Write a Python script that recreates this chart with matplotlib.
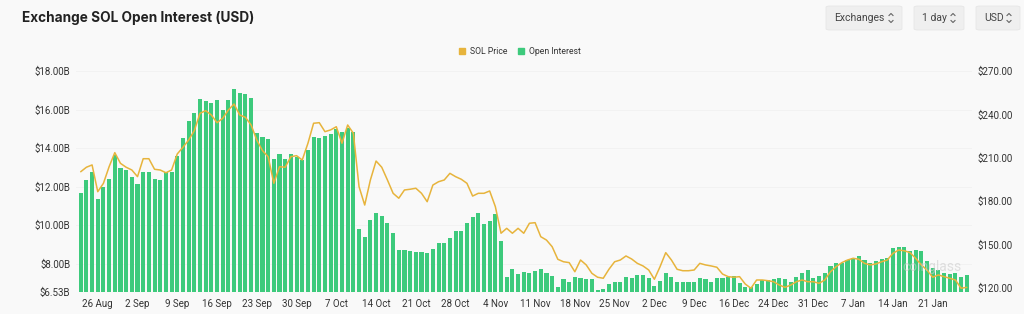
import matplotlib
matplotlib.use("Agg")
import matplotlib.pyplot as plt
from matplotlib.patches import FancyBboxPatch
from matplotlib.lines import Line2D
import pandas as pd

# ---------------- data ----------------
start_date = "2024-08-23"
end_date = "2025-01-27"
missing_dates = ["2024-12-23"]

open_interest_b = [
    11.69, 12.35, 12.76, 11.38, 11.97, 12.38, 13.65, 12.96, 12.87, 12.49,
    12.14, 12.75, 12.75, 12.38, 12.35, 12.76, 12.78, 13.61, 14.51, 15.40,
    15.81, 16.54, 16.47, 16.36, 16.50, 15.98, 16.50, 17.08, 16.88, 16.82,
    16.61, 14.77, 14.60, 14.49, 13.44, 13.68, 13.42, 13.70, 13.53, 13.39,
    13.91, 14.60, 14.53, 14.63, 14.74, 14.98, 14.86, 15.07, 14.83, 9.80,
    9.37, 10.27, 10.62, 10.48, 10.10, 9.61, 8.73, 8.71, 8.68, 8.62,
    8.62, 8.54, 8.75, 9.09, 9.09, 9.32, 9.70, 9.70, 10.13, 10.44,
    10.62, 10.06, 10.20, 10.58, 9.16, 7.33, 7.71, 7.46, 7.57, 7.50,
    7.64, 7.71, 7.50, 7.38, 6.77, 7.19, 7.07, 7.29, 7.27, 7.22,
    7.22, 6.63, 6.67, 6.93, 7.05, 7.07, 7.33, 7.27, 7.43, 7.43,
    7.27, 6.84, 7.12, 7.50, 7.29, 7.07, 7.07, 7.07, 7.07, 7.26,
    7.22, 7.07, 7.27, 7.27, 7.33, 7.35, 6.98, 6.77, 6.81, 6.95,
    7.15, 7.15, 7.20, 7.24, 7.22, 7.05, 7.33, 7.53, 7.67, 7.24,
    7.36, 7.53, 7.88, 8.05, 8.05, 8.19, 8.28, 8.40, 8.19, 8.05,
    8.16, 8.23, 8.28, 8.80, 8.85, 8.85, 8.68, 8.71, 8.68, 8.12,
    7.76, 7.67, 7.53, 7.46, 7.50, 7.33, 7.43,
]

sol_price = [
    200.4, 203.5, 205.1, 186.6, 192.4, 203.9, 213.6, 206.2, 203.5, 201.6,
    197.0, 209.4, 209.4, 202.1, 201.6, 199.7, 201.6, 212.7, 217.3, 222.3,
    228.8, 240.8, 242.6, 239.6, 234.3, 237.3, 243.1, 247.2, 239.6, 238.0,
    232.7, 222.3, 215.0, 210.8, 192.4, 203.9, 203.5, 210.8, 211.5, 208.5,
    220.0, 233.9, 234.3, 228.1, 229.3, 231.5, 220.1, 232.7, 227.0, 190.1,
    177.4, 194.7, 207.8, 203.5, 194.7, 185.5, 182.1, 187.8, 188.3, 189.0,
    185.5, 179.7, 191.2, 193.5, 194.7, 199.3, 197.0, 195.2, 192.4, 183.6,
    185.5, 185.5, 187.1, 176.3, 157.9, 161.3, 157.9, 161.3, 157.9, 164.8,
    165.2, 155.5, 153.2, 148.6, 139.9, 138.2, 137.6, 131.3, 139.4, 136.0,
    130.2, 127.5, 126.8, 133.0, 138.2, 139.4, 142.2, 140.1, 137.1, 135.3,
    132.5, 126.1, 134.8, 144.5, 139.4, 133.0, 132.0, 132.0, 132.5, 137.1,
    136.0, 135.3, 134.4, 129.7, 127.9, 127.5, 127.9, 122.8, 119.9, 125.6,
    125.6, 125.1, 124.4, 122.1, 120.5, 122.1, 124.4, 125.6, 124.4, 124.4,
    123.3, 125.6, 131.3, 134.8, 137.6, 139.4, 140.6, 139.9, 137.1, 136.0,
    136.7, 138.2, 139.4, 144.0, 146.3, 145.8, 144.5, 140.6, 136.0, 132.5,
    127.5, 129.1, 127.9, 126.8, 125.6, 119.9, 120.5,
]

tick_dates = ["2024-08-26", "2024-09-02", "2024-09-09", "2024-09-16", "2024-09-23",
              "2024-09-30", "2024-10-07", "2024-10-14", "2024-10-21", "2024-10-28",
              "2024-11-04", "2024-11-11", "2024-11-18", "2024-11-25", "2024-12-02",
              "2024-12-09", "2024-12-16", "2024-12-24", "2024-12-31", "2025-01-07",
              "2025-01-14", "2025-01-21"]

left_ticks = [6.53, 8, 10, 12, 14, 16, 18]
left_tick_labels = ["$6.53B", "$8.00B", "$10.00B", "$12.00B", "$14.00B", "$16.00B", "$18.00B"]
right_ticks = [120, 150, 180, 210, 240, 270]
right_tick_labels = ["$120.00", "$150.00", "$180.00", "$210.00", "$240.00", "$270.00"]

# ---------------- figure ----------------
BG = "#f9f9f9"
GREEN = "#3dca7c"
ORANGE = "#e7b43c"
TXT = "#333333"

dates = pd.date_range(start_date, end_date, freq="D")
dates = dates[~dates.isin(pd.to_datetime(missing_dates))]
x = list(range(len(dates)))

fig = plt.figure(figsize=(10.24, 3.14), dpi=100, facecolor=BG)
W, H = 1024, 314
ax_l, ax_r, ax_t, ax_b = 76, 972, 70, 292
ax = fig.add_axes([ax_l / W, 1 - ax_b / H, (ax_r - ax_l) / W, (ax_b - ax_t) / H])
ax.set_facecolor(BG)

ax.bar(x, open_interest_b, width=0.72, color=GREEN, bottom=0, zorder=2)
ax.set_ylim(6.53, 18.06)
ax.set_xlim(-0.83, len(x) - 1 + 0.92)
ax.set_yticks(left_ticks)
ax.set_yticklabels(left_tick_labels)
for v in left_ticks[1:]:
    ax.axhline(v, color="#f1f1f1", lw=0.6, zorder=0)

pos_map = {d.strftime("%Y-%m-%d"): i for i, d in enumerate(dates)}
tpos = [pos_map[d] for d in tick_dates]
tlab = [pd.Timestamp(d).strftime("%-d %b") for d in tick_dates]
ax.set_xticks(tpos)
ax.set_xticklabels(tlab)

for s in ax.spines.values():
    s.set_visible(False)
ax.tick_params(axis="both", length=0, labelsize=7, colors=TXT)
ax.tick_params(axis="x", pad=5)
ax.tick_params(axis="y", pad=4)

ax2 = ax.twinx()
ax2.plot(x, sol_price, color=ORANGE, lw=1.1, zorder=3,
         solid_joinstyle="round", solid_capstyle="round")
ax2.set_ylim(117.3, 270.7)
ax2.set_yticks(right_ticks)
ax2.set_yticklabels(right_tick_labels)
for s in ax2.spines.values():
    s.set_visible(False)
ax2.tick_params(axis="y", length=0, labelsize=7, colors=TXT, pad=4)

for lab in ax.get_xticklabels() + ax.get_yticklabels() + ax2.get_yticklabels():
    lab.set_fontfamily("Roboto")

# watermark
fig.text(932 / W, 1 - 267 / H, "coinglass", fontsize=10, color="#cccccc", alpha=0.6,
         ha="center", va="center", fontfamily="Roboto")

# title
fig.text(22 / W, 1 - 18 / H, "Exchange SOL Open Interest (USD)", fontsize=9.8,
         fontweight="bold", color="#222222", ha="left", va="center", fontfamily="Inter")

# legend
fig.patches.append(FancyBboxPatch((459 / W, 1 - 54 / H), 6 / W, 6 / H, boxstyle="square,pad=0",
                                  transform=fig.transFigure, color=ORANGE))
fig.text(470 / W, 1 - 51 / H, "SOL Price", fontsize=6.2, color=TXT, va="center",
         fontfamily="Roboto")
fig.patches.append(FancyBboxPatch((518 / W, 1 - 54 / H), 6 / W, 6 / H, boxstyle="square,pad=0",
                                  transform=fig.transFigure, color=GREEN))
fig.text(529 / W, 1 - 51 / H, "Open Interest", fontsize=6.2, color=TXT, va="center",
         fontfamily="Roboto")

# buttons
buttons = [("Exchanges", 826, 902), ("1 day", 914, 964), ("USD", 976, 1020)]
for label, x0, x1 in buttons:
    fig.patches.append(FancyBboxPatch((x0 / W, 1 - 30 / H), (x1 - x0) / W, 24 / H,
                                      boxstyle="round,pad=0,rounding_size=0.004",
                                      transform=fig.transFigure, facecolor="#efefef",
                                      edgecolor="#e6e6e6", lw=0.6))
    fig.text((x0 + 8) / W, 1 - 18 / H, label, fontsize=7.5, color="#444444", va="center",
             ha="left", fontfamily="Roboto")
    cx = x1 - 11
    for ys in ((15.5, 13.5, 15.5), (20.5, 22.5, 20.5)):
        fig.add_artist(Line2D([(cx - 2) / W, cx / W, (cx + 2) / W],
                              [1 - ys[0] / H, 1 - ys[1] / H, 1 - ys[2] / H],
                              transform=fig.transFigure, color="#666666", lw=0.8))

fig.savefig("out.png", dpi=100, facecolor=BG)
